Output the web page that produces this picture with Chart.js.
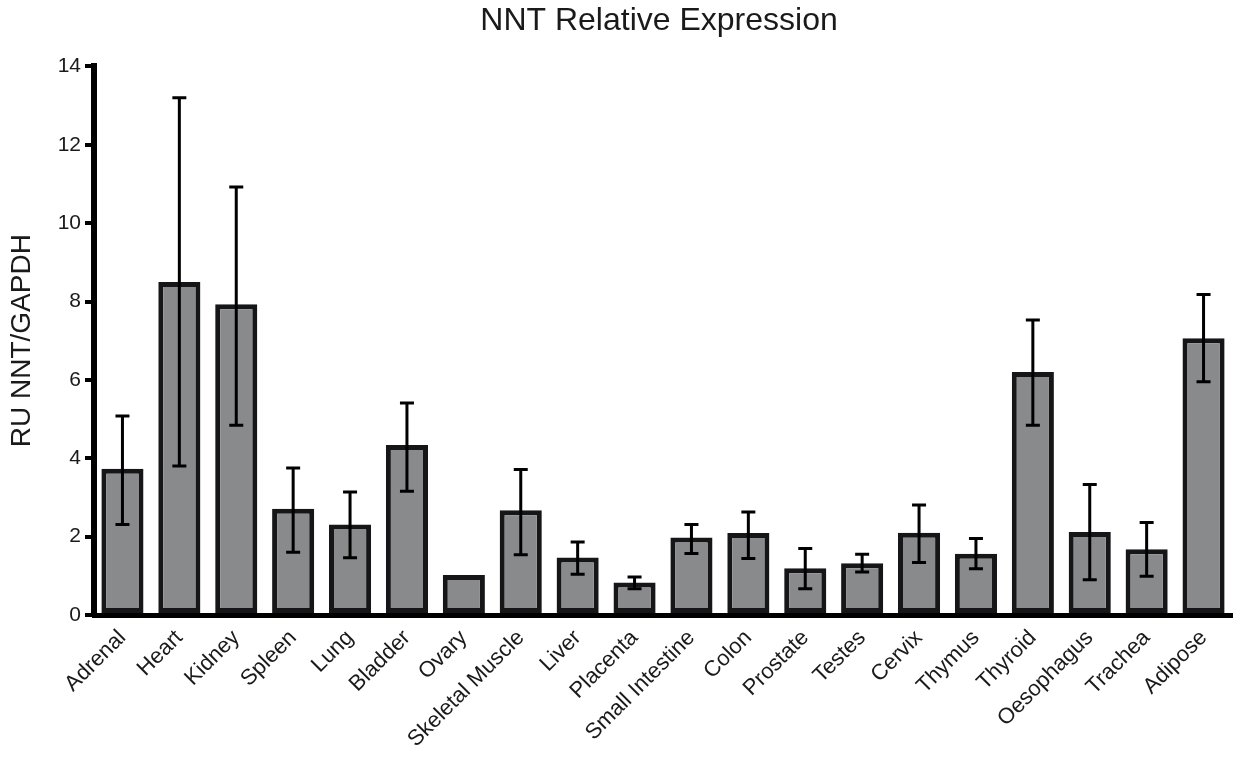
<!DOCTYPE html>
<html>
<head>
<meta charset="utf-8">
<script src="https://cdn.jsdelivr.net/npm/chart.js@4.4.0/dist/chart.umd.min.js"></script>
<style>
  html,body{margin:0;padding:0;background:#fff;}
  #wrap{width:1235px;height:758px;}
</style>
</head>
<body>
<div id="wrap"><canvas id="nntChart" width="1235" height="758"></canvas></div>
<script>
const tissues = ['Adrenal','Heart','Kidney','Spleen','Lung','Bladder','Ovary','Skeletal Muscle','Liver','Placenta',
  'Small Intestine','Colon','Prostate','Testes','Cervix','Thymus','Thyroid','Oesophagus','Trachea','Adipose'];
const expression = [3.73,8.50,7.93,2.71,2.31,4.34,1.02,2.67,1.47,0.83,1.98,2.09,1.19,1.32,2.10,1.56,6.20,2.12,1.68,7.06];
const errHigh = [5.08,13.2,10.92,3.75,3.14,5.41,1.02,3.71,1.86,0.97,2.31,2.63,1.70,1.55,2.81,1.95,7.53,3.33,2.36,8.18];
const errLow  = [2.31,3.80,4.84,1.60,1.46,3.16,1.02,1.54,1.04,0.67,1.57,1.44,0.67,1.10,1.34,1.18,4.84,0.90,0.99,5.95];
const yTicks = [0,2,4,6,8,10,12,14];

const FONT = '"Liberation Sans", Arial, Helvetica, sans-serif';

// error bars drawn on top of the bars, using the chart's own scales
const errorBars = {
  id:'errorBars',
  afterDatasetsDraw(chart){
    const ctx = chart.ctx, y = chart.scales.y;
    const meta = chart.getDatasetMeta(0);
    ctx.save();
    ctx.strokeStyle = '#000';
    ctx.lineWidth = 3;
    meta.data.forEach((bar,i)=>{
      if(errHigh[i]===errLow[i]) return;
      const x = bar.x, yt = y.getPixelForValue(errHigh[i]), yb = y.getPixelForValue(errLow[i]);
      ctx.beginPath();
      ctx.moveTo(x,yt); ctx.lineTo(x,yb);
      ctx.moveTo(x-7,yt); ctx.lineTo(x+7,yt);
      ctx.moveTo(x-7,yb); ctx.lineTo(x+7,yb);
      ctx.stroke();
    });
    ctx.restore();
  }
};

// keep the title centred over the plot area
const centreTitle = {
  id:'centreTitle',
  afterLayout(chart){
    const t = chart.titleBlock, a = chart.chartArea;
    if(!t) return;
    const shift = (a.left+a.right)/2 - 4 - (t.left+t.right)/2;
    t.left += shift; t.right += shift;
  }
};

new Chart(document.getElementById('nntChart'),{
  type:'bar',
  data:{labels:tissues,datasets:[{
    data:expression,
    backgroundColor:'#898a8c',
    borderColor:'#161517',
    borderWidth:5,
    borderSkipped:false,
    categoryPercentage:1,
    barPercentage:0.74
  }]},
  options:{
    responsive:false,
    animation:false,
    layout:{padding:{left:0,right:3,top:0,bottom:0}},
    plugins:{
      legend:{display:false},
      tooltip:{enabled:false},
      title:{display:true,text:'NNT Relative Expression',color:'#1a1a1a',
        font:{family:FONT,size:32,weight:'normal'},padding:{top:2,bottom:26}}
    },
    scales:{
      x:{
        grid:{display:false,drawTicks:false},
        border:{display:true,width:5,color:'#000'},
        ticks:{color:'#1a1a1a',font:{family:FONT,size:22},autoSkip:false,maxRotation:45,minRotation:45,padding:10},
        afterFit(s){ s.height = 143; }
      },
      y:{
        min:0,max:14,
        afterBuildTicks(s){ s.ticks = yTicks.map(v=>({value:v})); },
        grid:{display:true,drawOnChartArea:false,drawTicks:true,tickLength:9,lineWidth:4,color:'#000'},
        border:{display:true,width:6,color:'#000'},
        ticks:{color:'#1a1a1a',font:{family:FONT,size:21},padding:4},
        title:{display:true,text:'RU NNT/GAPDH',color:'#1a1a1a',font:{family:FONT,size:28},padding:{top:5,bottom:0}},
        afterFit(s){ s.width = 94; }
      }
    }
  },
  plugins:[errorBars,centreTitle]
});
</script>
</body>
</html>
